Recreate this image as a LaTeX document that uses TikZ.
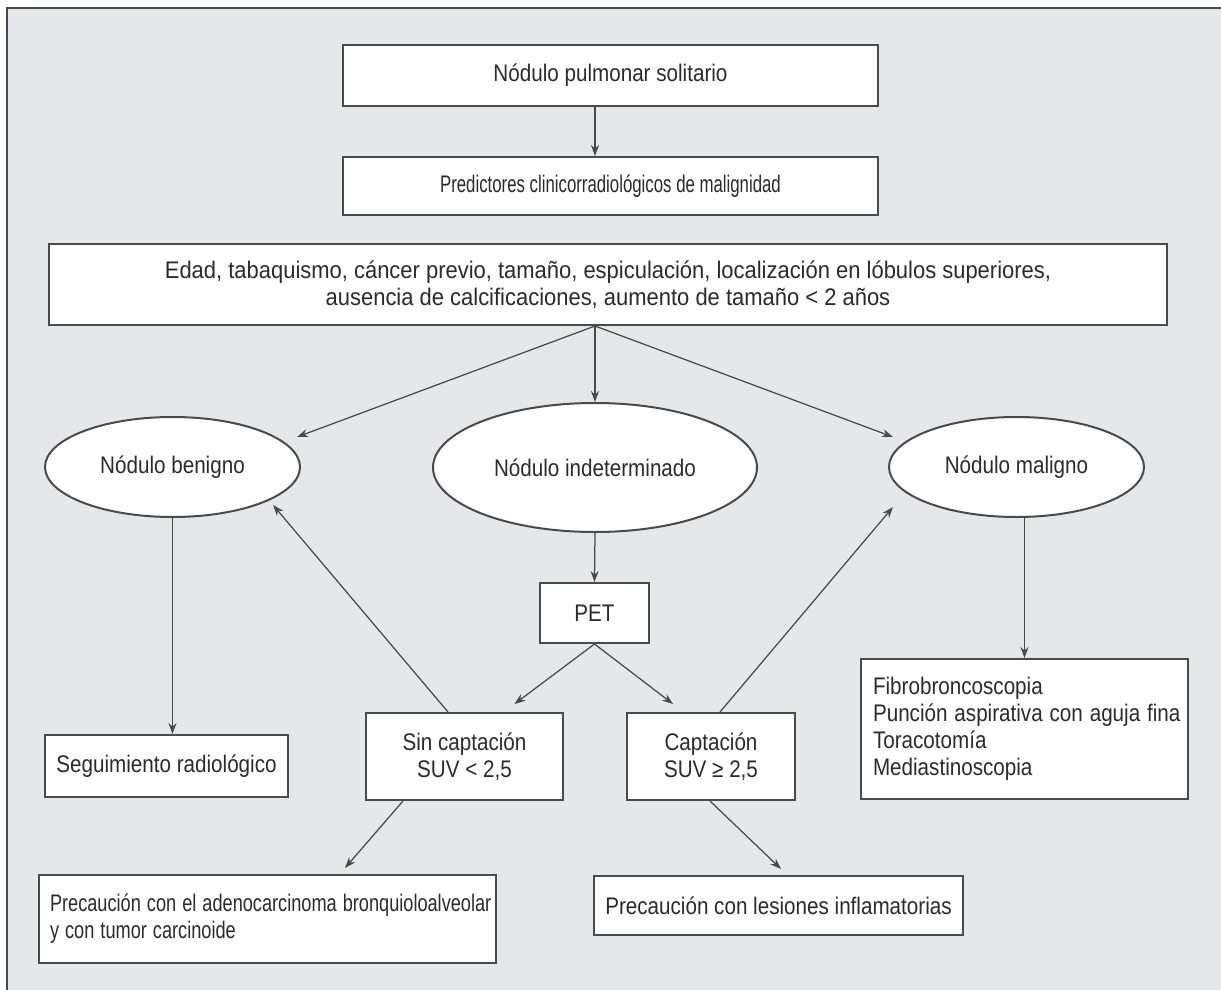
\documentclass[tikz,border=0pt]{standalone}
\usepackage{fontspec}
\usepackage{graphicx}
\setmainfont{Liberation Sans}
\usetikzlibrary{shapes.geometric,arrows.meta,calc}
\definecolor{bg}{HTML}{E6E7E8}
\definecolor{ink}{HTML}{2B2B2B}
\definecolor{edge}{HTML}{4A4A4A}
\newcommand\cn[2][0.86]{\scalebox{#1}[1]{#2}}
\begin{document}
\begin{tikzpicture}[x=1pt,y=-1pt,
  txt/.style={font=\fontsize{24}{27}\selectfont, text=ink},
  box/.style={txt, draw=edge, line width=2pt, fill=white, inner sep=0pt},
  oval/.style={txt, ellipse, draw=edge, line width=2pt, fill=white, inner sep=0pt},
  arr/.style={draw=edge, line width=1.25pt, -{Stealth[length=11pt,width=8pt]}}]
\useasboundingbox (0,0) rectangle (1221,990);
\fill[bg] (7,8) rectangle (1221,990);
\draw[edge, line width=2.5pt] (7,990) -- (7,8) -- (1221,8);

% boxes
\node[box, minimum width=535pt, minimum height=60pt] (b1) at (610.5,75.5) {\cn{Nódulo pulmonar solitario}};
\node[box, minimum width=535pt, minimum height=58pt] (b2) at (610.5,186) {\cn[0.7]{Predictores clinicorradiológicos de malignidad}};
\node[box, minimum width=1118pt, minimum height=81pt, align=center] (b3) at (608,284.5)
  {\cn[0.915]{Edad, tabaquismo, cáncer previo, tamaño, espiculación, localización en lóbulos superiores,}\\\cn[0.915]{ausencia de calcificaciones, aumento de tamaño < 2 años}};

\node[oval, minimum width=255pt, minimum height=100pt] (ben) at (172.5,467) {\cn{Nódulo benigno}};
\node[oval, minimum width=324pt, minimum height=129pt] (ind) at (595,467.5) {\cn{Nódulo indeterminado}};
\node[oval, minimum width=255pt, minimum height=100pt] (mal) at (1016.5,467) {\cn{Nódulo maligno}};

\node[box, minimum width=243pt, minimum height=62pt] (seg) at (166.5,766) {\cn{Seguimiento radiológico}};
\node[box, minimum width=109pt, minimum height=60pt] (pet) at (594.5,613) {\cn{PET}};
\node[box, minimum width=197pt, minimum height=87pt, align=center] (sin) at (464.5,756.5) {\cn{Sin captación}\\\cn{SUV < 2,5}};
\node[box, minimum width=168pt, minimum height=87pt, align=center] (cap) at (711,756.5) {\cn{Captación}\\\cn{SUV ≥ 2,5}};
\node[box, minimum width=327pt, minimum height=140pt, text width=303pt, align=left] (fib) at (1024.5,729)
  {\cn{Fibrobroncoscopia}\\\cn{Punción aspirativa con aguja fina}\\\cn{Toracotomía}\\\cn{Mediastinoscopia}};
\node[box, minimum width=457pt, minimum height=88pt, text width=435pt, align=left] (p1) at (267.5,919)
  {\cn[0.757]{Precaución con el adenocarcinoma bronquioloalveolar}\\\cn[0.757]{y con tumor carcinoide}};
\node[box, minimum width=369pt, minimum height=59pt] (p2) at (778.5,905.5) {\cn{Precaución con lesiones inflamatorias}};

% connectors
\draw[arr] (b1.south -| ind.center) -- (b2.north -| ind.center);
\draw[arr] (b3.south -| ind.center) -- (ind.north);
\draw[arr] (b3.south -| ind.center) -- ($(ben.center)+(124.5,-30)$);
\draw[arr] (b3.south -| ind.center) -- ($(mal.center)+(-123.5,-30)$);
\draw[arr] (ben.south) -- (seg.north -| ben.south);
\draw[arr] (ind.south) -- (pet.north);
\draw[arr] (pet.south) -- ($(sin.north)+(50,-8)$);
\draw[arr] (pet.south) -- ($(cap.north)+(-38,-8)$);
\draw[arr] ($(sin.north)+(-16.5,0)$) -- ($(ben.center)+(100.5,38)$);
\draw[arr] ($(cap.north)+(9,0)$) -- ($(mal.center)+(-123.5,40)$);
\draw[arr] (fib.north |- mal.south) -- (fib.north);
\draw[arr] ($(sin.south)+(-61.5,0)$) -- ($(p1.north)+(77.5,-6)$);
\draw[arr] ($(cap.south)+(-1,0)$) -- ($(p2.north)+(2.5,-6)$);
\end{tikzpicture}
\end{document}
